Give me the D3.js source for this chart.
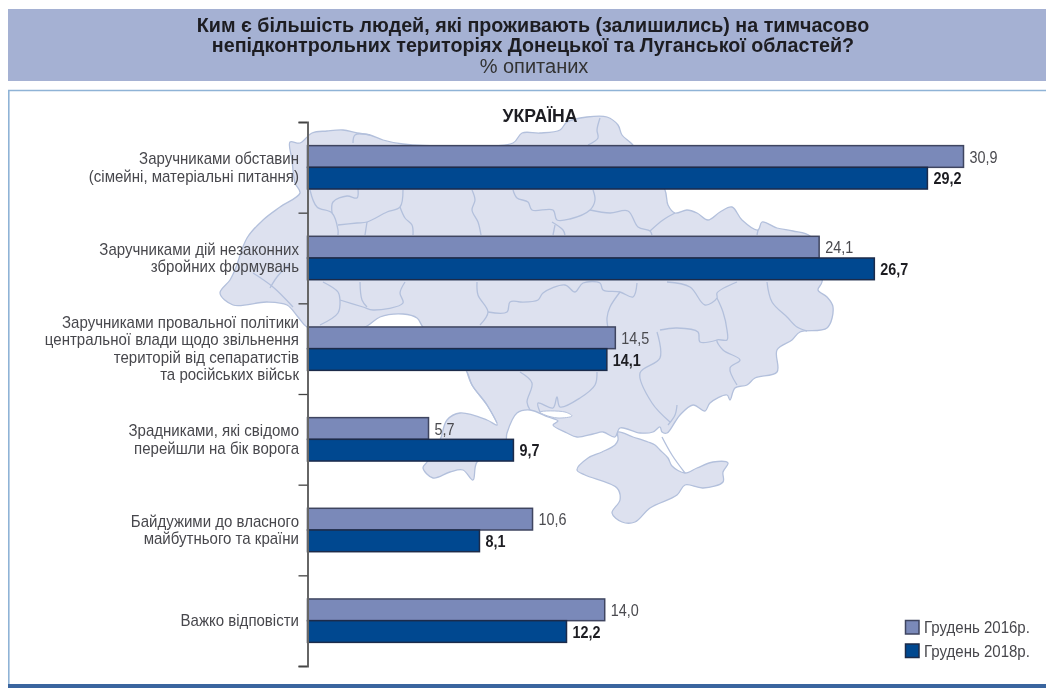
<!DOCTYPE html>
<html>
<head>
<meta charset="utf-8">
<script src="https://d3js.org/d3.v7.min.js"></script>
<style>
    body { margin: 0; background: #fff; }
    svg { display: block; filter: blur(0.4px); }
    text { font-family: "Liberation Sans", Arial, sans-serif; }
</style>
</head>
<body>
<svg width="1046" height="688"></svg>
<script>
const categories = [
    ['Заручниками обставин', '(сімейні, матеріальні питання)'],
    ['Заручниками дій незаконних', 'збройних формувань'],
    ['Заручниками провальної політики', 'центральної влади щодо звільнення', 'територій від сепаратистів', 'та російських військ'],
    ['Зрадниками, які свідомо', 'перейшли на бік ворога'],
    ['Байдужими до власного', 'майбутнього та країни'],
    ['Важко відповісти']
];
const seriesNames = ['Грудень 2016р.', 'Грудень 2018р.'];
const values2016 = [30.9, 24.1, 14.5, 5.7, 10.6, 14.0];
const values2018 = [29.2, 26.7, 14.1, 9.7, 8.1, 12.2];
const titleLines = [
    'Ким є більшість людей, які проживають (залишились) на тимчасово',
    'непідконтрольних територіях Донецької та Луганської областей?'
];
const subtitle = '% опитаних';
const mapTitle = 'УКРАЇНА';

// background map
const mainland = [[290,142],[300,143],[312,133],[327,131],[343,130],[357,133],[370,135],[383,140],[403,144],[460,146],[513,143],[522,133],[540,133],[560,130],[567,122],[587,117],[607,117],[618,125],[622,135],[632,144],[650,170],[665,190],[668,205],[675,213],[687,210],[697,213],[708,220],[720,212],[732,207],[742,220],[758,230],[762,222],[777,228],[793,231],[810,236],[820,260],[822,282],[818,290],[827,297],[833,307],[827,328],[800,332],[792,340],[777,350],[777,372],[755,378],[747,385],[735,388],[730,400],[727,395],[710,403],[705,411],[693,405],[680,415],[675,422],[667,433],[662,432],[660,427],[653,432],[640,433],[620,428],[615,437],[603,432],[593,434],[577,437],[567,433],[553,425],[558,421],[548,417],[530,410],[517,413],[507,433],[505,445],[477,462],[473,480],[463,470],[450,472],[433,478],[423,468],[427,462],[440,440],[447,420],[460,413],[487,420],[497,425],[487,405],[472,385],[467,372],[450,350],[423,327],[417,318],[403,314],[380,317],[367,326],[340,335],[307,327],[298,317],[287,305],[267,302],[233,305],[220,293],[230,280],[235,270],[247,238],[263,220],[280,207],[300,193],[295,183],[292,160]];
const crimea = [[618,432],[618,440],[615,445],[602,452],[588,458],[577,470],[585,475],[617,488],[620,500],[612,513],[622,522],[635,522],[650,508],[677,495],[685,485],[703,488],[723,482],[723,472],[728,463],[713,462],[697,468],[685,473],[672,466],[668,458],[660,450],[655,445],[648,442],[633,437]];
const estuary = [[540,412],[565,412],[572,416],[558,418],[545,415]];
const borders = [
    [[310,190],[317,207],[332,213],[338,230],[338,235]],
    [[332,213],[333,202],[347,196],[357,198],[358,189]],
    [[338,225],[357,223],[367,222],[387,212],[400,207],[403,190]],
    [[400,207],[405,218],[412,225],[413,235]],
    [[367,222],[365,235]],
    [[472,190],[475,200],[472,210],[478,222],[481,235]],
    [[513,190],[517,198],[528,202],[532,210],[553,210],[557,220],[570,219],[590,210],[595,200],[593,190]],
    [[590,210],[610,213],[628,211],[638,227],[650,231],[652,235]],
    [[650,231],[663,220],[675,213]],
    [[552,222],[563,230],[565,235]],
    [[555,225],[553,235]],
    [[758,230],[757,235]],
    [[353,143],[355,135],[370,135]],
    [[600,118],[597,130],[598,138],[588,145]],
    [[520,302],[538,300],[543,293],[565,285],[575,292],[583,283],[600,283],[603,290],[620,292],[633,297],[637,283]],
    [[620,292],[610,307],[607,318],[608,328]],
    [[667,282],[690,287],[705,305],[717,298],[717,293],[737,282]],
    [[717,298],[723,312],[727,330],[727,340],[717,340],[723,350],[740,360],[730,368],[737,385]],
    [[767,282],[772,302],[787,317],[797,327],[807,331]],
    [[323,282],[338,292],[340,300],[338,313],[320,325]],
    [[340,300],[363,307],[373,310],[403,303],[400,293],[405,282]],
    [[360,282],[362,300],[367,307]],
    [[477,282],[478,295],[488,312],[480,325]],
    [[488,312],[507,312],[510,302],[520,302]],
    [[253,273],[273,287],[293,307]],
    [[270,288],[277,277],[290,263]],
    [[660,330],[677,328],[698,332],[700,342],[717,340]],
    [[657,332],[660,358],[640,373],[652,403],[670,422]],
    [[467,372],[472,385],[487,405],[497,423]],
    [[520,372],[532,383],[527,402],[530,410]],
    [[597,372],[595,385],[580,398],[560,407],[557,397],[553,408],[538,403],[540,412]],
    [[685,473],[672,455],[662,437]],
    [[677,405],[675,415],[668,425]]
];

const colors = ['#7a89b9', '#004890'];
const strokes = ['#3f4560', '#1c2b4a'];
const labelSize = 16;
const labelStretch = 0.94;
const valueStretch = 0.9;

const svg = d3.select('svg');
const comma = d3.formatLocale({ decimal: ',', thousands: ' ', grouping: [3], currency: ['', ''] }).format('.1f');

// narrower text: no condensed font here, so squeeze it horizontally
function place(px, py, k) {
    return 'translate(' + px + ',' + py + ') scale(' + k + ',1)';
}

// header band and panel
svg.append('rect').attr('x', 8).attr('y', 9).attr('width', 1038).attr('height', 72).attr('fill', '#a5b1d3');
svg.append('path').attr('d', 'M1046,90.5H8.8V684').attr('fill', 'none').attr('stroke', '#8fb3d6').attr('stroke-width', 1.6);
svg.append('rect').attr('x', 8).attr('y', 684).attr('width', 1038).attr('height', 4).attr('fill', '#3a659f');

svg.selectAll('.title').data(titleLines).enter().append('text')
    .attr('class', 'title')
    .attr('x', 533)
    .attr('y', (d, i) => 32 + i * 20)
    .attr('text-anchor', 'middle')
    .attr('font-size', 19.7)
    .attr('font-weight', 'bold')
    .attr('fill', '#1d1d22')
    .text(d => d);
svg.append('text').attr('x', 534).attr('y', 72.5).attr('text-anchor', 'middle')
    .attr('font-size', 20).attr('fill', '#333').text(subtitle);

// map
const mapLine = d3.line().curve(d3.curveCatmullRom.alpha(0.5));
const closedLine = d3.line().curve(d3.curveCatmullRomClosed.alpha(0.5));
const map = svg.append('g');
map.selectAll('.land').data([mainland, crimea]).enter().append('path')
    .attr('class', 'land')
    .attr('d', closedLine)
    .attr('fill', '#dde1ef')
    .attr('stroke', '#b3c0dc')
    .attr('stroke-width', 1.3);
map.selectAll('.border').data(borders).enter().append('path')
    .attr('class', 'border')
    .attr('d', mapLine)
    .attr('fill', 'none')
    .attr('stroke', '#b3c0dc')
    .attr('stroke-width', 1.3);
map.append('path').attr('d', closedLine(estuary)).attr('fill', '#fff').attr('stroke', '#b3c0dc');

svg.append('text').attr('x', 540).attr('y', 122).attr('text-anchor', 'middle')
    .attr('font-size', 17.6).attr('font-weight', 'bold').attr('fill', '#1d1d22').text(mapTitle);

// scales
const x = d3.scaleLinear().domain([0, 30.9]).range([307.5, 963.5]);
const y = d3.scaleBand().domain(d3.range(categories.length)).range([122, 666]);
const barH = 21.7;
const y1 = d3.scaleBand().domain([0, 1])
    .range([y.bandwidth() / 2 - barH, y.bandwidth() / 2 + barH]);
const edges = d3.scaleLinear().domain([0, categories.length]).range([122, 666]);

// bars
const series = [values2016, values2018];
series.forEach(function (vals, s) {
    const g = svg.append('g');
    g.selectAll('rect').data(vals).enter().append('rect')
        .attr('x', x(0))
        .attr('y', (d, i) => y(i) + y1(s))
        .attr('width', d => x(d) - x(0))
        .attr('height', y1.bandwidth())
        .attr('fill', colors[s])
        .attr('stroke', strokes[s])
        .attr('stroke-width', 1.5);
    g.selectAll('text').data(vals).enter().append('text')
        .attr('transform', (d, i) => place(x(d) + 6, y(i) + y1(s) + 17, valueStretch))
        .attr('font-size', labelSize)
        .attr('font-weight', s === 1 ? 'bold' : 'normal')
        .attr('fill', s === 1 ? '#1d1d22' : '#4a4a4f')
        .text(d => comma(d));
});

// axis with ticks between groups
const axis = svg.append('g')
    .attr('transform', 'translate(307.5,0)')
    .call(d3.axisLeft(edges).tickValues(d3.range(categories.length + 1)).tickSize(9).tickFormat(''));
axis.select('.domain').attr('stroke', '#666').attr('stroke-width', 2);
axis.selectAll('.tick line').attr('stroke', '#444').attr('stroke-width', 1.3);

// category labels
const lineH = 17.5;
categories.forEach(function (lines, c) {
    const cy = y(c) + y.bandwidth() / 2;
    svg.append('g').selectAll('text').data(lines).enter().append('text')
        .attr('transform', (d, i) => place(299, cy + (i - (lines.length - 1) / 2) * lineH + 5.5, labelStretch))
        .attr('text-anchor', 'end')
        .attr('font-size', labelSize)
        .attr('fill', '#47474c')
        .text(d => d);
});

// legend
const legend = svg.append('g').selectAll('g').data(seriesNames).enter().append('g')
    .attr('transform', (d, i) => 'translate(905.5,' + (620.5 + i * 23.5) + ')');
legend.append('rect').attr('width', 13.5).attr('height', 13.5)
    .attr('fill', (d, i) => colors[i])
    .attr('stroke', (d, i) => strokes[i])
    .attr('stroke-width', 1.5);
legend.append('text')
    .attr('transform', place(18.5, 12.5, labelStretch))
    .attr('font-size', labelSize)
    .attr('fill', '#47474c')
    .text(d => d);
</script>
</body>
</html>
